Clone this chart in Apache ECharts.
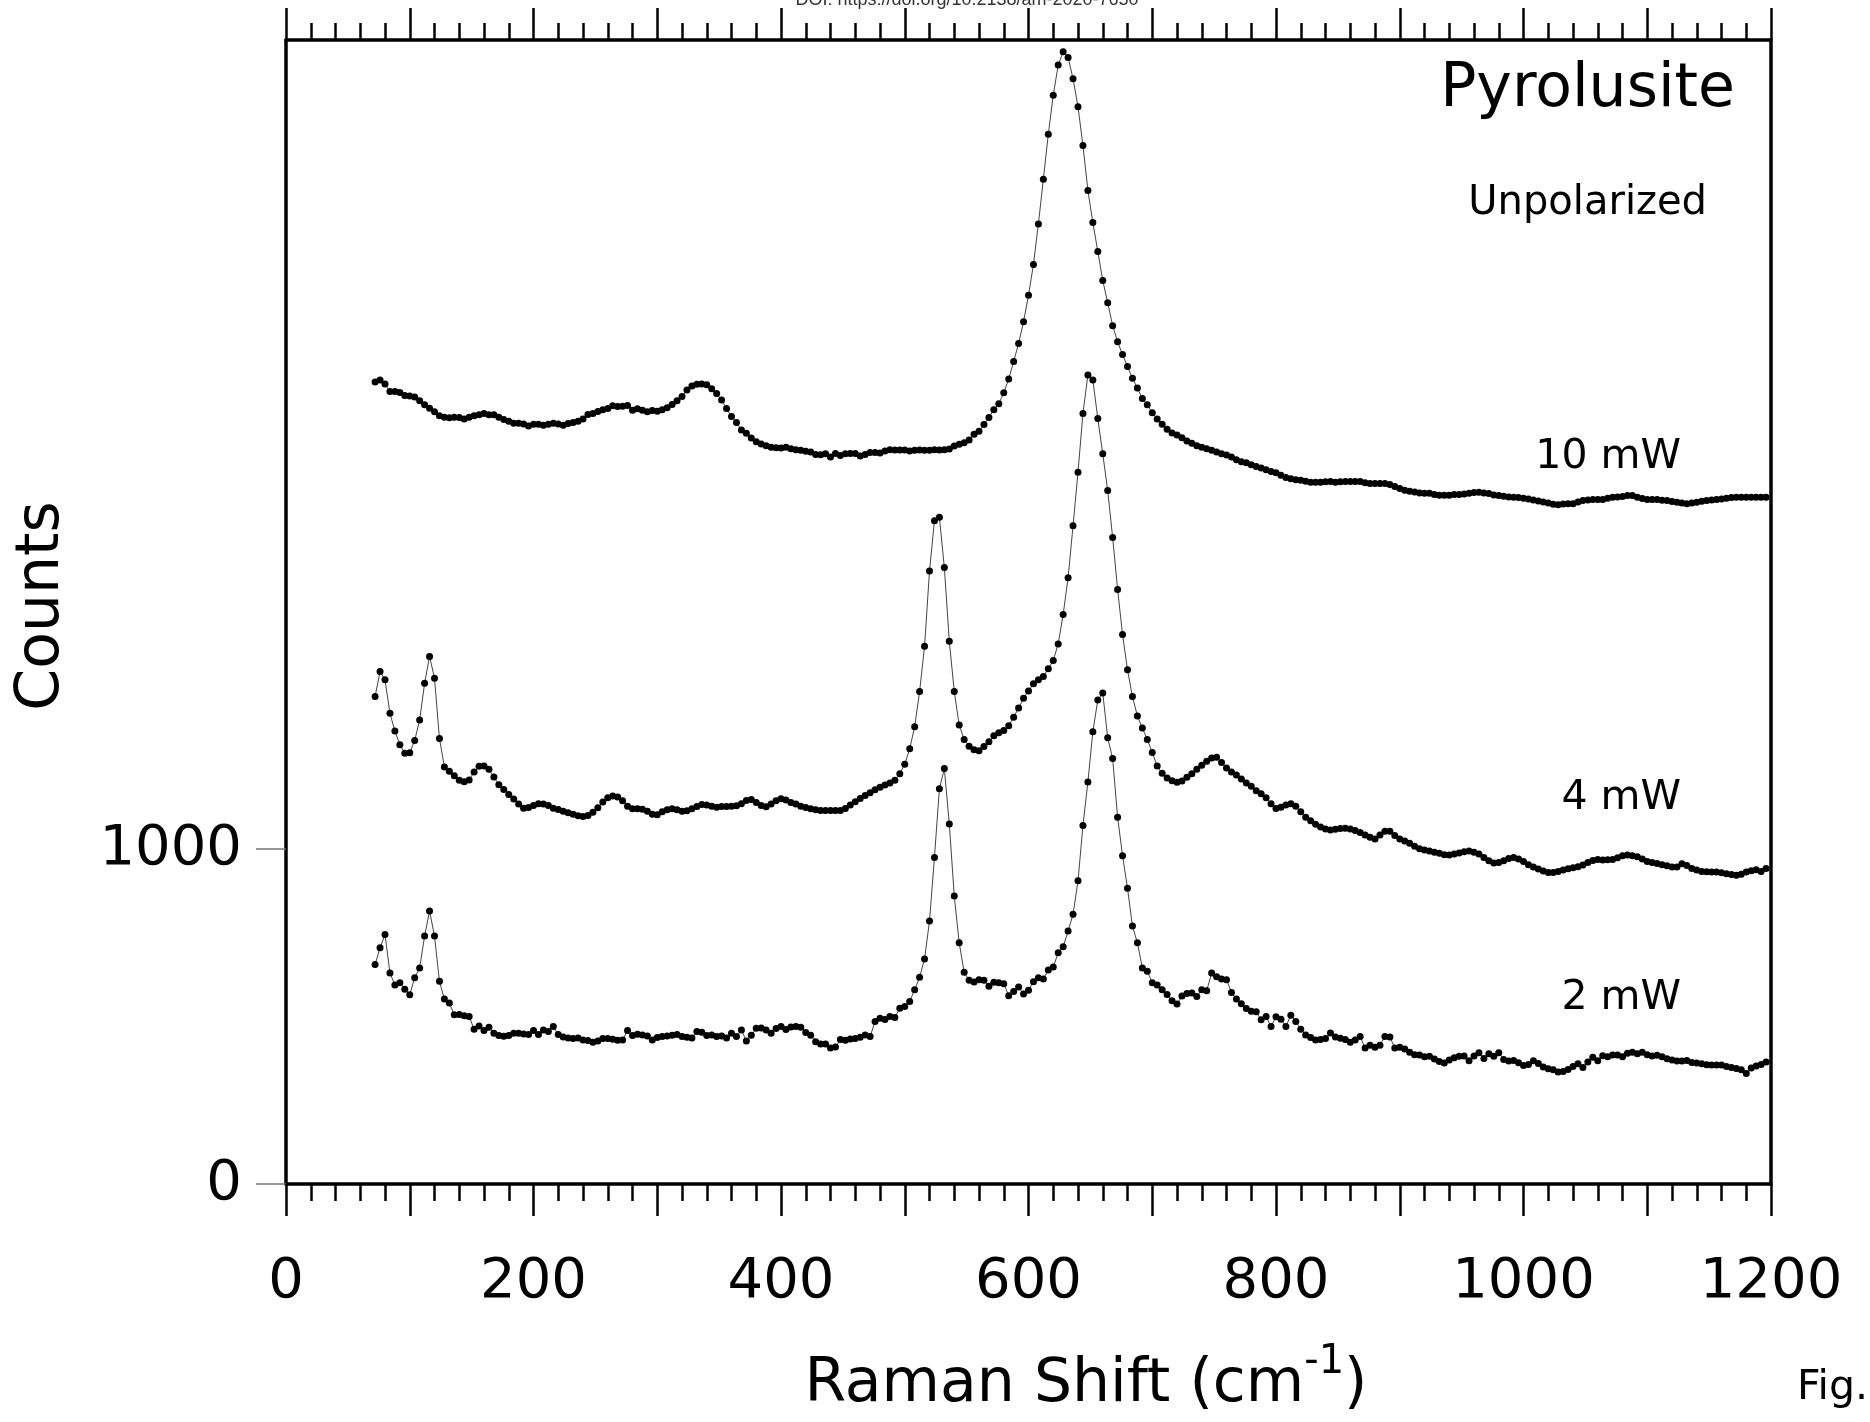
<!DOCTYPE html>
<html>
<head>
<meta charset="utf-8">
<script src="https://cdn.jsdelivr.net/npm/echarts@6/dist/echarts.min.js"></script>
<style>
html,body{margin:0;padding:0;background:#fff;}
#chart{width:1870px;height:1422px;}
</style>
</head>
<body>
<div id="chart"></div>
<script>
// Raman shift (cm^-1) sample positions
const ramanShift = [
  72,76,80,84,88,92,96,100,104,108,
  112,116,120,124,128,132,136,140,144,148,
  152,156,160,164,168,172,176,180,184,188,
  192,196,200,204,208,212,216,220,224,228,
  232,236,240,244,248,252,256,260,264,268,
  272,276,280,284,288,292,296,300,304,308,
  312,316,320,324,328,332,336,340,344,348,
  352,356,360,364,368,372,376,380,384,388,
  392,396,400,404,408,412,416,420,424,428,
  432,436,440,444,448,452,456,460,464,468,
  472,476,480,484,488,492,496,500,504,508,
  512,516,520,524,528,532,536,540,544,548,
  552,556,560,564,568,572,576,580,584,588,
  592,596,600,604,608,612,616,620,624,628,
  632,636,640,644,648,652,656,660,664,668,
  672,676,680,684,688,692,696,700,704,708,
  712,716,720,724,728,732,736,740,744,748,
  752,756,760,764,768,772,776,780,784,788,
  792,796,800,804,808,812,816,820,824,828,
  832,836,840,844,848,852,856,860,864,868,
  872,876,880,884,888,892,896,900,904,908,
  912,916,920,924,928,932,936,940,944,948,
  952,956,960,964,968,972,976,980,984,988,
  992,996,1000,1004,1008,1012,1016,1020,1024,1028,
  1032,1036,1040,1044,1048,1052,1056,1060,1064,1068,
  1072,1076,1080,1084,1088,1092,1096,1100,1104,1108,
  1112,1116,1120,1124,1128,1132,1136,1140,1144,1148,
  1152,1156,1160,1164,1168,1172,1176,1180,1184,1188,
  1192,1196
];

const counts10mW = [
  2394,2400,2388,2366,2366,2363,2354,2352,2349,2338,
  2326,2316,2305,2293,2289,2287,2289,2288,2284,2289,
  2293,2296,2300,2296,2296,2289,2282,2277,2271,2271,
  2269,2263,2268,2268,2265,2268,2271,2269,2265,2270,
  2273,2277,2284,2297,2300,2306,2311,2315,2323,2321,
  2322,2324,2310,2314,2310,2305,2309,2307,2311,2317,
  2327,2338,2351,2370,2382,2387,2388,2386,2374,2360,
  2340,2315,2291,2273,2251,2241,2227,2216,2209,2204,
  2199,2198,2197,2199,2195,2192,2190,2187,2185,2178,
  2177,2180,2170,2181,2175,2180,2181,2181,2173,2178,
  2184,2184,2182,2188,2192,2191,2191,2191,2188,2190,
  2191,2190,2190,2192,2191,2192,2194,2203,2208,2213,
  2221,2238,2247,2267,2288,2311,2329,2362,2403,2455,
  2509,2574,2653,2745,2866,2999,3134,3250,3340,3380,
  3363,3299,3216,3100,2966,2870,2784,2697,2631,2562,
  2514,2476,2440,2405,2376,2345,2326,2302,2284,2268,
  2253,2242,2236,2228,2218,2211,2204,2199,2195,2190,
  2185,2180,2176,2170,2162,2156,2153,2147,2142,2137,
  2132,2127,2123,2116,2109,2105,2102,2101,2098,2095,
  2095,2095,2096,2097,2095,2096,2097,2097,2097,2097,
  2093,2091,2091,2091,2091,2088,2082,2076,2071,2068,
  2066,2063,2062,2062,2058,2056,2056,2056,2058,2058,
  2060,2062,2064,2065,2063,2061,2057,2055,2053,2051,
  2050,2049,2047,2045,2042,2039,2036,2033,2029,2028,
  2030,2031,2031,2036,2040,2042,2043,2043,2043,2047,
  2050,2051,2052,2055,2055,2050,2046,2043,2043,2043,
  2041,2040,2037,2035,2033,2031,2033,2035,2038,2040,
  2042,2043,2045,2047,2049,2050,2050,2050,2050,2050,
  2050,2050
];

const counts4mW = [
  1455,1530,1505,1405,1352,1311,1286,1287,1324,1385,
  1495,1575,1510,1330,1245,1232,1219,1205,1201,1206,
  1230,1247,1248,1238,1215,1192,1178,1163,1149,1134,
  1122,1124,1130,1135,1134,1130,1122,1118,1113,1108,
  1104,1099,1097,1100,1110,1123,1140,1153,1158,1155,
  1144,1128,1120,1120,1119,1113,1104,1102,1111,1117,
  1120,1117,1113,1114,1120,1127,1133,1131,1128,1125,
  1127,1127,1128,1129,1135,1145,1148,1139,1130,1126,
  1134,1144,1150,1146,1139,1134,1128,1124,1120,1117,
  1115,1115,1115,1115,1115,1121,1131,1141,1151,1160,
  1168,1177,1184,1191,1197,1205,1225,1253,1299,1365,
  1470,1605,1830,1980,1990,1840,1620,1470,1370,1327,
  1307,1296,1293,1306,1320,1338,1347,1354,1368,1393,
  1421,1450,1472,1493,1505,1515,1538,1563,1612,1700,
  1810,1965,2125,2300,2415,2400,2285,2180,2070,1930,
  1775,1640,1535,1455,1397,1361,1327,1288,1248,1226,
  1212,1204,1199,1203,1214,1225,1238,1250,1262,1272,
  1274,1258,1242,1230,1221,1209,1197,1187,1174,1165,
  1153,1135,1121,1125,1131,1135,1128,1111,1095,1084,
  1074,1066,1060,1057,1059,1061,1062,1060,1055,1049,
  1042,1035,1030,1042,1053,1053,1040,1030,1024,1017,
  1008,1001,997,994,990,987,983,982,985,988,
  992,994,990,985,975,965,958,960,965,972,
  975,970,963,953,946,940,934,930,930,933,
  937,941,944,947,952,960,966,969,967,968,
  969,974,980,982,980,977,970,963,960,957,
  953,950,946,946,956,951,942,937,933,932,
  931,931,929,926,924,922,925,931,935,938,
  933,942
];

const counts2mW = [
  655,705,745,630,594,601,581,565,616,645,
  740,815,740,605,552,540,505,506,502,500,
  462,472,458,468,450,443,441,443,450,450,
  448,446,458,446,460,455,470,446,439,436,
  434,436,430,428,423,427,434,434,432,429,
  430,458,443,447,445,442,430,437,440,442,
  444,446,440,438,436,455,453,443,445,440,
  442,436,450,440,460,427,444,465,466,460,
  450,464,470,461,469,470,468,452,444,425,
  418,418,406,409,431,429,433,434,438,445,
  440,485,495,491,500,497,525,530,545,580,
  617,672,785,975,1180,1240,1075,860,720,632,
  608,603,610,608,590,602,601,598,562,575,
  588,567,578,604,616,612,639,648,690,708,
  755,805,905,1070,1200,1350,1445,1466,1332,1270,
  1095,980,883,770,720,645,635,601,594,580,
  566,547,537,561,569,570,560,580,577,630,
  619,612,610,572,552,538,524,516,514,490,
  500,470,499,492,470,504,485,462,445,437,
  430,431,434,451,439,435,431,423,430,440,
  406,414,408,414,440,439,406,408,403,393,
  386,385,380,381,373,366,361,370,377,381,
  382,368,382,392,375,389,381,392,372,367,
  369,362,354,357,368,360,349,344,341,334,
  336,342,351,359,348,364,378,368,383,380,
  385,385,380,390,393,389,393,386,382,384,
  380,374,370,367,367,369,363,361,359,356,
  355,355,355,351,348,345,341,330,346,352,
  357,364
];

const xTickLabels = [0, 200, 400, 600, 800, 1000, 1200];
const yTickLabels = [0, 1000];
const curveLabels = ['10 mW', '4 mW', '2 mW'];
const titleText = 'Pyrolusite';
const subtitleText = 'Unpolarized';

const FONT = '"DejaVu Sans", sans-serif';

function makeSeries(name, vals) {
  return {
    type: 'line',
    name: name,
    data: ramanShift.map((x, i) => [x, vals[i]]),
    symbol: 'circle',
    symbolSize: 7,
    showSymbol: true,
    showAllSymbol: true,
    lineStyle: { color: '#444', width: 1 },
    itemStyle: { color: '#000' },
    silent: true,
    animation: false,
    xAxisIndex: 0,
    yAxisIndex: 0
  };
}

const chart = echarts.init(document.getElementById('chart'), null, { renderer: 'canvas', width: 1870, height: 1422 });

const axisBlack = { color: '#000', width: 3.5 };
const tickStyle = { color: '#000', width: 2.5 };

function textEl(text, x, y, size, align, family) {
  return {
    type: 'text',
    x: x, y: y,
    silent: true,
    style: {
      text: text,
      fontSize: size,
      fontFamily: family || FONT,
      fill: '#000',
      align: align, textAlign: align,
      verticalAlign: 'middle', textVerticalAlign: 'middle'
    }
  };
}

const option = {
  backgroundColor: '#fff',
  animation: false,
  grid: { left: 286, top: 40, width: 1485, height: 1144, show: false },
  xAxis: [
    {
      type: 'value', position: 'bottom', min: 0, max: 1200, interval: 100,
      axisLine: { show: true, onZero: false, lineStyle: axisBlack },
      axisTick: { show: true, inside: false, length: 32, lineStyle: tickStyle },
      minorTick: { show: true, splitNumber: 5, length: 17, lineStyle: tickStyle },
      axisLabel: {
        show: true, margin: 70, fontSize: 56, fontFamily: FONT, color: '#000',
        formatter: function (v) { return xTickLabels.indexOf(v) >= 0 ? String(v) : ''; }
      },
      splitLine: { show: false }, minorSplitLine: { show: false }
    },
    {
      type: 'value', position: 'top', min: 0, max: 1200, interval: 100,
      axisLine: { show: true, onZero: false, lineStyle: axisBlack },
      axisTick: { show: true, inside: false, length: 32, lineStyle: tickStyle },
      minorTick: { show: true, splitNumber: 5, length: 17, lineStyle: tickStyle },
      axisLabel: { show: false },
      splitLine: { show: false }, minorSplitLine: { show: false }
    }
  ],
  yAxis: [
    {
      type: 'value', position: 'left', min: 0, max: 3415,
      axisLine: { show: true, onZero: false, lineStyle: axisBlack },
      axisTick: { show: true, inside: false, length: 30, customValues: yTickLabels, lineStyle: { color: '#777', width: 1.5 } },
      axisLabel: {
        show: true, margin: 44, fontSize: 56, fontFamily: FONT, color: '#000', customValues: yTickLabels,
        formatter: function (v) { return String(v); }
      },
      splitLine: { show: false }
    },
    {
      type: 'value', position: 'right', min: 0, max: 3415,
      axisLine: { show: true, onZero: false, lineStyle: axisBlack },
      axisTick: { show: false }, axisLabel: { show: false }, splitLine: { show: false }
    }
  ],
  series: [
    makeSeries(curveLabels[0], counts10mW),
    makeSeries(curveLabels[1], counts4mW),
    makeSeries(curveLabels[2], counts2mW)
  ],
  graphic: [
    textEl(titleText, 1735, 90, 60, 'right'),
    textEl(subtitleText, 1707, 204, 40, 'right'),
    textEl(curveLabels[0], 1681, 457, 41, 'right'),
    textEl(curveLabels[1], 1681, 798, 41, 'right'),
    textEl(curveLabels[2], 1681, 998, 41, 'right'),
    {
      type: 'text', x: 42, y: 606, rotation: Math.PI / 2, silent: true,
      style: { text: 'Counts', fontSize: 60, fontFamily: FONT, fill: '#000',
        align: 'center', textAlign: 'center', verticalAlign: 'middle', textVerticalAlign: 'middle' }
    },
    {
      type: 'text', x: 1086, y: 1385, silent: true,
      style: {
        text: '{a|Raman Shift (cm}{s|-1}{a|)}',
        fill: '#000', align: 'center', textAlign: 'center', verticalAlign: 'middle', textVerticalAlign: 'middle',
        rich: {
          a: { fontSize: 60, fontFamily: FONT, lineHeight: 84, fill: '#000', color: '#000' },
          s: { fontSize: 40, fontFamily: FONT, lineHeight: 40, verticalAlign: 'top', fill: '#000', color: '#000' }
        }
      }
    },
    textEl('Fig.', 1797, 1388, 41, 'left'),
    {
      type: 'text', x: 967, y: 9, silent: true,
      style: { text: 'DOI: https://doi.org/10.2138/am-2020-7650', fontSize: 18, fontFamily: '"Liberation Sans", Arial, sans-serif',
        fill: '#333', align: 'center', textAlign: 'center', verticalAlign: 'bottom', textVerticalAlign: 'bottom' }
    }
  ]
};

chart.setOption(option);
</script>
</body>
</html>
